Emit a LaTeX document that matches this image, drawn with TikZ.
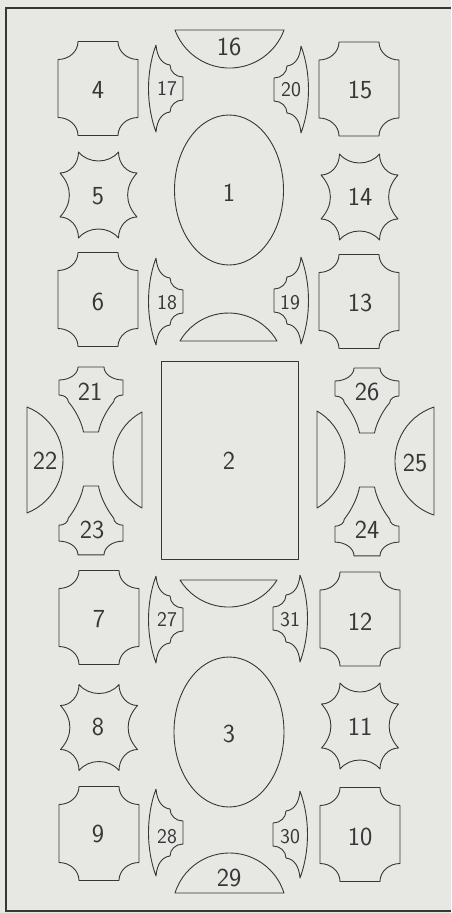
\documentclass[tikz,border=0pt]{standalone}
\usepackage{fontspec}
\begin{document}
\definecolor{paper}{RGB}{231,231,228}
\definecolor{ink}{RGB}{55,55,55}
\begin{tikzpicture}[x=1pt,y=-1pt,
  outline/.style={draw=ink, line width=0.9pt, line join=round},
  lbl/.style={text=ink, font=\sffamily\fontsize{26}{26}\selectfont, inner sep=0pt},
  slbl/.style={text=ink, font=\sffamily\fontsize{21}{21}\selectfont, inner sep=0pt},
  plaque/.pic={\draw[outline] (-20,-47) -- (20,-47)
      arc[start angle=180,end angle=90,x radius=20,y radius=18] -- (40,29)
      arc[start angle=-90,end angle=-180,x radius=20,y radius=18] -- (-20,47)
      arc[start angle=0,end angle=-90,x radius=20,y radius=18] -- (-40,-29)
      arc[start angle=90,end angle=0,x radius=20,y radius=18] -- cycle;},
  hide/.pic={\draw[outline] (-20,-43) .. controls (-10,-31) and (10,-31) .. (20,-43)
      arc[start angle=180,end angle=90,x radius=18.5,y radius=21]
      .. controls (26,-8) and (26,8) .. (38.5,22)
      arc[start angle=-90,end angle=-180,x radius=18.5,y radius=21]
      .. controls (10,31) and (-10,31) .. (-20,43)
      arc[start angle=0,end angle=-90,x radius=18.5,y radius=21]
      .. controls (-26,8) and (-26,-8) .. (-38.5,-22)
      arc[start angle=90,end angle=0,x radius=18.5,y radius=21] -- cycle;},
  spike/.pic={\draw[outline] (0,0) .. controls (1,12) and (6,19) .. (14,20)
      arc[start angle=180,end angle=90,x radius=13,y radius=12] -- (27,55)
      arc[start angle=-90,end angle=-180,x radius=13,y radius=12]
      .. controls (6,68) and (1,75) .. (0,87)
      .. controls (-10,60) and (-10,27) .. (0,0);},
  bow/.pic={\draw[outline] (-7.5,0) .. controls (-9,-8) and (-14,-20) .. (-22.7,-30.3)
      arc[start angle=0,end angle=-90,x radius=9.3,y radius=6.7] -- (-32,-52)
      arc[start angle=90,end angle=0,x radius=19,y radius=13] -- (13,-65)
      arc[start angle=180,end angle=90,x radius=19,y radius=13] -- (32,-37)
      arc[start angle=-90,end angle=-180,x radius=9.3,y radius=6.7]
      .. controls (14,-20) and (9,-8) .. (7.5,0) -- cycle;}
]
\useasboundingbox[fill=paper] (0,0) rectangle (451,913);
% frame
\draw[draw=ink, line width=1.5pt] (451,8) -- (6,8) -- (6,911) -- (451,911);
% ovals, rectangle
\draw[outline] (229,190) ellipse[x radius=54.5,y radius=75];
\draw[outline] (229,732) ellipse[x radius=55,y radius=75];
\draw[outline] (161,361) rectangle (298,559);
% segments
\draw[outline] (175,30) arc[start angle=159.8,end angle=20.2,radius=58.1] -- cycle;
\draw[outline] (180,341) arc[start angle=-150,end angle=-30,radius=56] -- cycle;
\draw[outline] (180,580) arc[start angle=148.3,end angle=31.7,radius=57] -- cycle;
\draw[outline] (175,893) arc[start angle=-162.6,end angle=-17.4,radius=57.1] -- cycle;
\draw[outline] (27,407) arc[start angle=-68.4,end angle=68.4,radius=57] -- cycle;
\draw[outline] (142,412) arc[start angle=-117.7,end angle=-242.3,radius=54.2] -- cycle;
\draw[outline] (434,407) arc[start angle=-108.3,end angle=-251.7,radius=56.9] -- cycle;
\draw[outline] (317,411) arc[start angle=-60,end angle=60,radius=56] -- cycle;
% plaques
\pic at (98,88.5) {plaque};
\pic at (98,299.5) {plaque};
\pic at (359,89) {plaque};
\pic at (359,301.5) {plaque};
\pic at (99,617.5) {plaque};
\pic at (99,833.5) {plaque};
\pic at (360,619) {plaque};
\pic at (360,834.5) {plaque};
% hides
\pic at (98.5,195) {hide};
\pic at (359.5,197) {hide};
\pic at (99,727.5) {hide};
\pic at (360,726) {hide};
% spikes
\pic at (156,45) {spike};
\pic at (156,258) {spike};
\pic at (156,576) {spike};
\pic at (156,789) {spike};
\pic[xscale=-1] at (301,46) {spike};
\pic[xscale=-1] at (301,257) {spike};
\pic[xscale=-1] at (300,575) {spike};
\pic[xscale=-1] at (300,791) {spike};
% bows
\pic at (91,432) {bow};
\pic[yscale=-1.06] at (91,486) {bow};
\pic at (367,433) {bow};
\pic[yscale=-1.06] at (367,487) {bow};
% labels
\node[lbl] (n1) at (229,193) {1};
\node[lbl] (n2) at (229,461) {2};
\node[lbl] (n3) at (229,734) {3};
\node[lbl] (n4) at (98,90) {4};
\node[lbl] (n5) at (98,196) {5};
\node[lbl] (n6) at (98,302) {6};
\node[lbl] (n7) at (99,619) {7};
\node[lbl] (n8) at (98,727) {8};
\node[lbl] (n9) at (98,834) {9};
\node[lbl] (n10) at (360,837) {10};
\node[lbl] (n11) at (360,727) {11};
\node[lbl] (n12) at (360,622) {12};
\node[lbl] (n13) at (360,303) {13};
\node[lbl] (n14) at (360,197) {14};
\node[lbl] (n15) at (360,90) {15};
\node[lbl] (n16) at (229,47) {16};
\node[slbl] (n17) at (167,89) {17};
\node[slbl] (n18) at (167,303) {18};
\node[slbl] (n19) at (290,303) {19};
\node[slbl] (n20) at (291,90) {20};
\node[lbl] (n21) at (90,392) {21};
\node[lbl] (n22) at (45,461) {22};
\node[lbl] (n23) at (92,530) {23};
\node[lbl] (n24) at (367,530) {24};
\node[lbl] (n25) at (415,463) {25};
\node[lbl] (n26) at (367,392) {26};
\node[slbl] (n27) at (167,620) {27};
\node[slbl] (n28) at (167,837) {28};
\node[lbl] (n29) at (229,878) {29};
\node[slbl] (n30) at (290,837) {30};
\node[slbl] (n31) at (290,620) {31};
\end{tikzpicture}
\end{document}
